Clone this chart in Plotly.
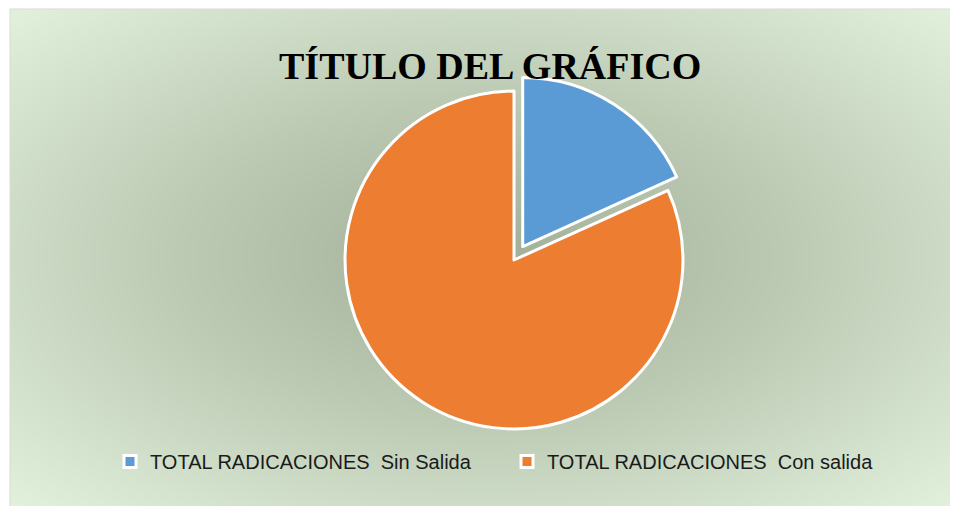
import numpy as np
import plotly.graph_objects as go

labels = ["TOTAL RADICACIONES\u00a0\u00a0Sin Salida", "TOTAL RADICACIONES\u00a0\u00a0Con salida"]
values = [18.25, 81.75]
colors = ["#5b9bd5", "#ed7d31"]
title_text = "TÍTULO DEL GRÁFICO"

# page body has an 8px margin; figure coordinates = page coordinates - 8
W, H = 950, 498
OFF = 8

# background radial gradient (styling only)
nx, ny = 120, 80
gx = np.linspace(0, 1, nx)
gy = np.linspace(0, 1, ny)
X, Y = np.meshgrid(gx, gy)
Z = np.sqrt(((X - 0.5) / 0.5) ** 2 + ((Y - 0.5) / 0.5) ** 2) / np.sqrt(2)

fig = go.Figure()
fig.add_trace(go.Heatmap(
    x=gx, y=gy, z=Z, zsmooth="best", showscale=False, hoverinfo="skip",
    colorscale=[[0, "#a2af98"], [0.45, "#bccab4"], [1, "#e2f1dc"]],
    xaxis="x", yaxis="y",
))

cx, cy, size = 514 - OFF, 260 - OFF, 370
fig.add_trace(go.Pie(
    labels=labels, values=values, sort=False, direction="clockwise", rotation=0,
    pull=[0.095, 0],
    marker=dict(colors=colors, line=dict(color="white", width=3)),
    textinfo="none", hoverinfo="label+value",
    domain=dict(x=[(cx - size / 2) / W, (cx + size / 2) / W],
                y=[(H - cy - size / 2) / H, (H - cy + size / 2) / H]),
))

fx0, fy0 = 10 - OFF, 9 - OFF
fig.update_layout(
    width=W, height=H,
    margin=dict(l=0, r=0, t=0, b=0),
    paper_bgcolor="white",
    plot_bgcolor="rgba(0,0,0,0)",
    xaxis=dict(domain=[fx0 / W, 1], range=[0, 1], visible=False, fixedrange=True),
    yaxis=dict(domain=[0, 1 - fy0 / H], range=[0, 1], visible=False, fixedrange=True),
    showlegend=True,
    legend=dict(orientation="h", x=(110 - OFF) / W, xanchor="left",
                y=1 - (461.5 - OFF) / H, yanchor="middle",
                font=dict(family="Liberation Sans", size=20, color="#1a1a1a"),
                bgcolor="rgba(0,0,0,0)", entrywidth=352, entrywidthmode="pixels",
                itemwidth=30, traceorder="normal"),
    annotations=[dict(text="<b>" + title_text + "</b>", x=(490 - OFF) / W, y=1 - (66 - OFF) / H,
                      xref="paper", yref="paper", xanchor="center", yanchor="middle",
                      showarrow=False,
                      font=dict(family="Liberation Serif", size=38, color="black"))],
    shapes=[dict(type="path", xref="paper", yref="paper",
                 path=f"M {fx0 / W},0 L {fx0 / W},{1 - fy0 / H} L 1,{1 - fy0 / H}",
                 line=dict(color="#d9d9d9", width=1))],
)

fig.write_html("out.html")
